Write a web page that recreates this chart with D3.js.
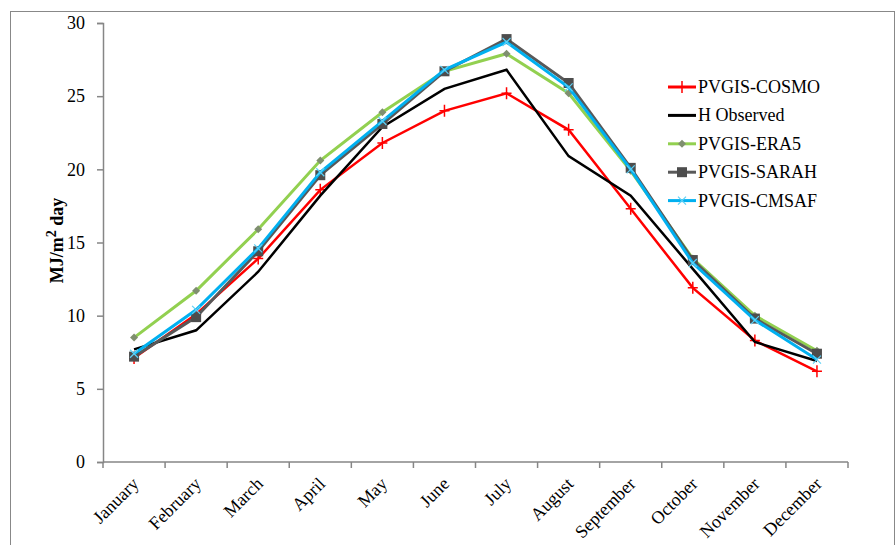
<!DOCTYPE html>
<html>
<head>
<meta charset="utf-8">
<script src="https://cdn.jsdelivr.net/npm/d3@7"></script>
<style>
  body { margin: 0; background: #fff; }
  svg text { font-family: "Liberation Serif", "DejaVu Serif", serif; }
</style>
</head>
<body>
<script>
'use strict';

const months = ['January', 'February', 'March', 'April', 'May', 'June',
  'July', 'August', 'September', 'October', 'November', 'December'];

const cosmo = [7.1, 10.1, 13.9, 18.6, 21.8, 24.0, 25.2, 22.7, 17.3, 11.9, 8.3, 6.2];
const observed = [7.7, 9.0, 13.0, 18.2, 22.9, 25.5, 26.8, 20.9, 18.2, 13.2, 8.2, 6.9];
const era5 = [8.5, 11.7, 15.9, 20.6, 23.9, 26.7, 27.9, 25.2, 19.9, 13.9, 10.0, 7.6];
const sarah = [7.2, 9.9, 14.4, 19.6, 23.1, 26.7, 28.9, 25.9, 20.1, 13.8, 9.8, 7.4];
const cmsaf = [7.4, 10.4, 14.6, 19.8, 23.3, 26.8, 28.7, 25.6, 20.0, 13.6, 9.7, 7.0];

const yTicks = [0, 5, 10, 15, 20, 25, 30];

const series = [
  {name: 'PVGIS-COSMO', values: cosmo, color: '#ff0000', marker: 'plus', width: 2.5},
  {name: 'H Observed', values: observed, color: '#000000', marker: 'none', width: 2.5},
  {name: 'PVGIS-ERA5', values: era5, color: '#92d050', marker: 'diamond', width: 3},
  {name: 'PVGIS-SARAH', values: sarah, color: '#595959', marker: 'square', width: 3},
  {name: 'PVGIS-CMSAF', values: cmsaf, color: '#00b0f0', marker: 'cross', width: 3}
];

const W = 896, H = 545;
const margin = {top: 23, right: 48, bottom: 83, left: 103};
const width = W - margin.left - margin.right,
  height = H - margin.top - margin.bottom;
const serif = '"Liberation Serif", "DejaVu Serif", serif';

const root = d3.select('body')
  .append('svg')
  .attr('width', W)
  .attr('height', H);

// outer chart frame
root.append('rect')
  .attr('x', 10.5)
  .attr('y', 11.5)
  .attr('width', 884)
  .attr('height', 560)
  .attr('fill', 'none')
  .attr('stroke', '#888')
  .attr('stroke-width', 1);

const svg = root.append('g')
  .attr('transform', 'translate(' + margin.left + ',' + margin.top + ')');

const xScale = d3.scaleBand()
  .domain(months)
  .range([0, width]);

const yScale = d3.scaleLinear()
  .domain([0, 30])
  .range([height, 0]);

const axisColor = '#868686';

// y axis
const yAxis = d3.axisLeft(yScale)
  .tickValues(yTicks)
  .tickSize(6)
  .tickPadding(12);

const gy = svg.append('g').call(yAxis);
gy.attr('font-family', serif);
gy.selectAll('text')
  .attr('font-family', serif)
  .style('font-size', '18px')
  .attr('fill', '#000');

// x axis, ticks on band boundaries
const gx = svg.append('g')
  .attr('transform', `translate(0, ${height})`);

gx.append('line')
  .attr('x1', 0).attr('x2', width)
  .attr('y1', 0).attr('y2', 0);

gx.selectAll('.tick')
  .data(d3.range(months.length + 1))
  .enter()
  .append('line')
  .attr('class', 'tick')
  .attr('x1', i => i * xScale.step())
  .attr('x2', i => i * xScale.step())
  .attr('y1', 0)
  .attr('y2', 6);

gx.selectAll('text')
  .data(months)
  .enter()
  .append('text')
  .attr('transform', d => `translate(${xScale(d) + xScale.bandwidth() / 2 - 3}, 14) rotate(-45)`)
  .attr('text-anchor', 'end')
  .attr('dy', '0.7em')
  .attr('font-family', serif)
  .style('font-size', '18px')
  .text(d => d);

[gx, gy].forEach(g => {
  g.selectAll('line').attr('stroke', axisColor).attr('stroke-width', 1.5);
  g.selectAll('path.domain').attr('stroke', axisColor).attr('stroke-width', 1.5);
});

// y label
svg.append('text')
  .attr('transform', `translate(-40, ${height / 2 - 2}) rotate(-90)`)
  .attr('text-anchor', 'middle')
  .attr('font-family', serif)
  .style('font-size', '18px')
  .style('font-weight', 'bold')
  .html('MJ/m<tspan dy="-7" font-size="14px">2</tspan><tspan dy="7"> day</tspan>');

const cx = (d, i) => xScale(months[i]) + xScale.bandwidth() / 2;

const line = d3.line()
  .x(cx)
  .y(d => yScale(d));

const drawMarker = (g, type, color) => {
  if (type === 'plus') {
    g.append('path').attr('d', 'M-5,0H5M0,-6V6')
      .attr('stroke', color).attr('stroke-width', 1.5);
  } else if (type === 'diamond') {
    g.append('path').attr('d', 'M0,-4L4,0L0,4L-4,0Z')
      .attr('fill', '#7f8f6f');
  } else if (type === 'square') {
    g.append('rect').attr('x', -5).attr('y', -5).attr('width', 10).attr('height', 10)
      .attr('fill', '#4d4d4d');
  } else if (type === 'cross') {
    g.append('path').attr('d', 'M-4,-4L4,4M-4,4L4,-4')
      .attr('stroke', '#5fd0f5').attr('stroke-width', 1.2);
  }
};

series.forEach(s => {
  svg.append('path')
    .datum(s.values)
    .attr('fill', 'none')
    .attr('stroke', s.color)
    .attr('stroke-width', s.width)
    .attr('stroke-linejoin', 'miter')
    .attr('d', line);

  s.values.forEach((v, i) => {
    const g = svg.append('g')
      .attr('transform', `translate(${cx(v, i)}, ${yScale(v)})`);
    drawMarker(g, s.marker, s.color);
  });
});

// legend
const legend = root.append('g')
  .attr('transform', 'translate(668, 87)');

series.forEach((s, i) => {
  const row = legend.append('g')
    .attr('transform', `translate(0, ${i * 28.4})`);
  row.append('line')
    .attr('x1', 0).attr('x2', 28)
    .attr('stroke', s.color)
    .attr('stroke-width', 3);
  const m = row.append('g').attr('transform', 'translate(14, 0)');
  drawMarker(m, s.marker, s.color);
  row.append('text')
    .attr('x', 30)
    .attr('y', 6)
    .attr('font-family', serif)
    .style('font-size', '18px')
    .text(s.name);
});
</script>
</body>
</html>
